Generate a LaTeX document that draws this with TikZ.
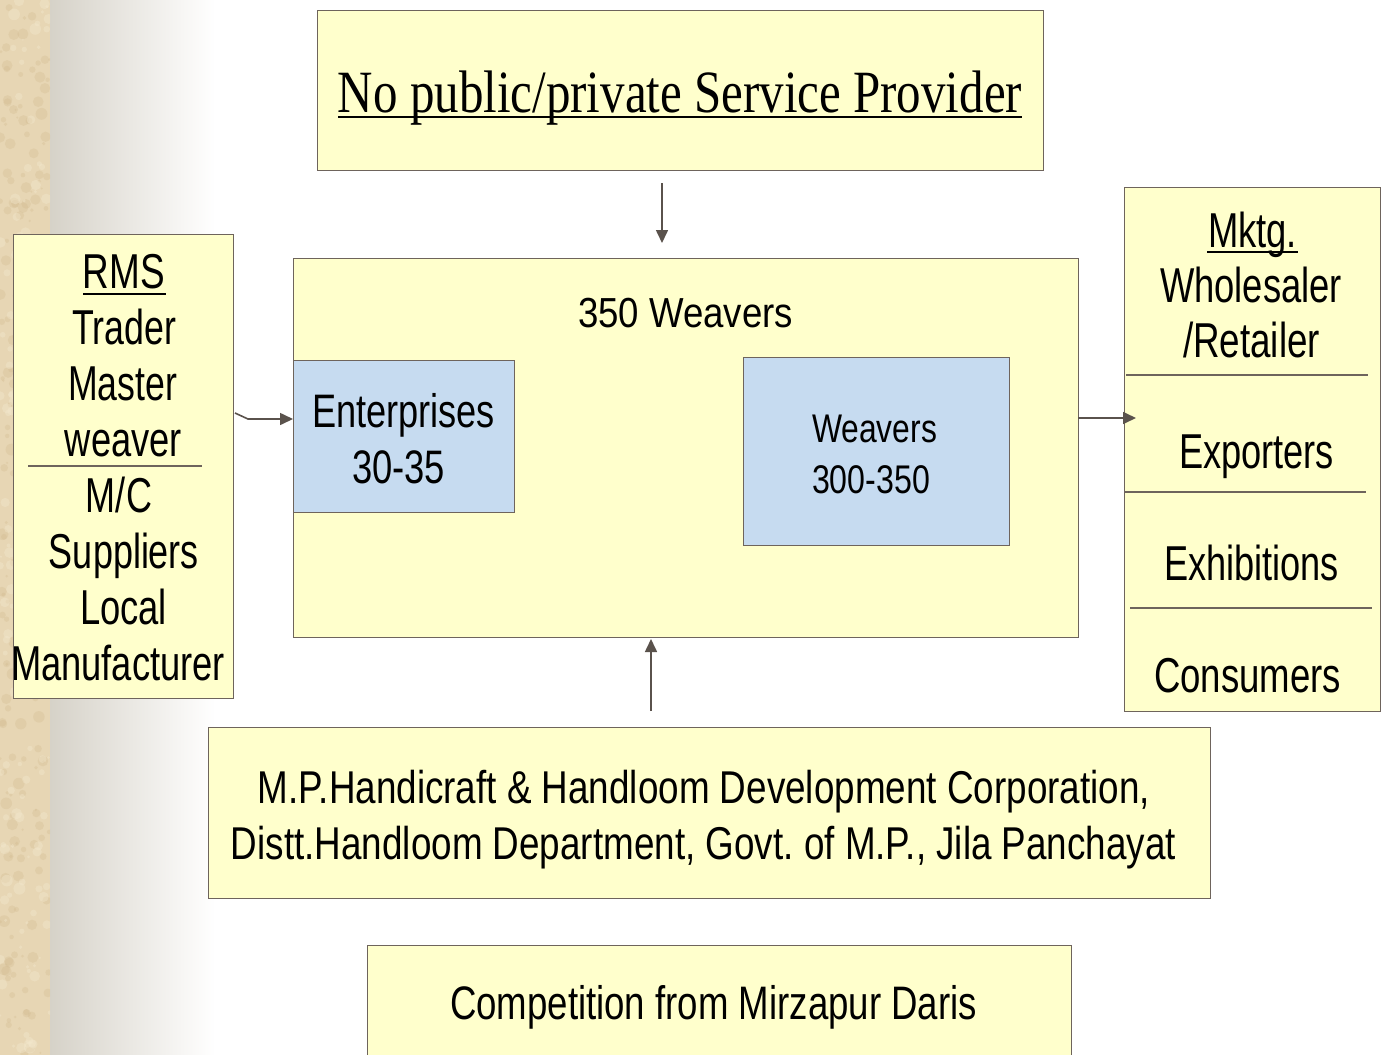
\documentclass[tikz,border=0pt]{standalone}
\usepackage{fontspec}
\usepackage{graphicx}
\setmainfont{Liberation Sans}
\newfontfamily\serifface{Liberation Serif}
\usetikzlibrary{arrows.meta}
\definecolor{boxfill}{RGB}{255,255,204}
\definecolor{boxline}{RGB}{110,100,92}
\definecolor{bluefill}{RGB}{198,219,240}
\definecolor{arrowcol}{RGB}{90,82,76}
\definecolor{parch}{RGB}{231,214,180}
\definecolor{parchdark}{RGB}{205,180,135}
\definecolor{parchlight}{RGB}{243,232,205}
\definecolor{gradleft}{RGB}{214,210,200}
\frenchspacing
\newcommand{\fw}[3]{\resizebox{#1pt}{\height}{\fontsize{#2pt}{#2pt}\selectfont #3}}
\tikzset{
  ybox/.style={draw=boxline, line width=1.3pt, fill=boxfill, anchor=north west, inner sep=0pt},
  bbox/.style={draw=boxline, line width=1.3pt, fill=bluefill, anchor=north west, inner sep=0pt},
  txt/.style={anchor=base, inner sep=0pt, outer sep=0pt},
  divline/.style={draw=boxline, line width=1.3pt},
  conn/.style={draw=arrowcol, line width=1.6pt, -{Triangle[length=13pt,width=12pt]}},
  uline/.style={draw=black, line width=1.2pt}
}
\begin{document}
\begin{tikzpicture}[x=1pt,y=-1pt]
\useasboundingbox (0,0) rectangle (1382,1055);
% background
\fill[white] (0,0) rectangle (1382,1055);
\shade[left color=gradleft, right color=white] (50,0) rectangle (215,1055);
\fill[parch] (0,0) rectangle (50,1055);
\pgfmathsetseed{7}
\begin{scope}
\clip (0,0) rectangle (50,1055);
\foreach \i in {1,...,220} {
  \pgfmathsetmacro{\px}{rnd*50}
  \pgfmathsetmacro{\py}{rnd*1055}
  \pgfmathsetmacro{\pr}{rnd*5+1}
  \fill[parchdark, opacity=0.25] (\px,\py) circle (\pr);
}
\foreach \i in {1,...,160} {
  \pgfmathsetmacro{\px}{rnd*50}
  \pgfmathsetmacro{\py}{rnd*1055}
  \pgfmathsetmacro{\pr}{rnd*5+1}
  \fill[parchlight, opacity=0.4] (\px,\py) circle (\pr);
}
\end{scope}

% top box
\node[ybox, minimum width=726pt, minimum height=160pt] (T) at (317,10) {};
\node[txt] (ttext) at (680,112) {\fw{684}{60}{\serifface No public/private Service Provider}};
\draw[uline] (338,117) -- (1022,117);

% centre box
\node[ybox, minimum width=785pt, minimum height=379pt] (C) at (293,258) {};
\node[txt] (cw) at (685.5,327) {\fw{215}{42}{350 Weavers}};
\node[bbox, minimum width=221pt, minimum height=152pt] (E) at (293,360) {};
\node[txt] (e1) at (403.5,427) {\fw{183}{47}{Enterprises}};
\node[txt] (e2) at (398.5,483) {\fw{93}{47}{30-35}};
\node[bbox, minimum width=266pt, minimum height=188pt] (W) at (743,357) {};
\node[txt] (w1) at (874.5,442) {\fw{125}{40}{Weavers}};
\node[txt] (w2) at (871,493) {\fw{118}{40}{300-350}};

% left box
\node[ybox, minimum width=220pt, minimum height=464pt] (L) at (13,234) {};
\draw[divline] (28,466) -- (202,466);
\node[txt] (l1) at (124,288) {\fw{82}{49}{RMS}};
\draw[uline] (83,294) -- (166,294);
\node[txt] (l2) at (124,344) {\fw{104}{49}{Trader}};
\node[txt] (l3) at (122.5,400) {\fw{109}{49}{Master}};
\node[txt] (l4) at (123.5,456) {\fw{117}{49}{weaver}};
\node[txt] (l5) at (119,512) {\fw{66}{49}{M/C}};
\node[txt] (l6) at (124,568) {\fw{150}{49}{Suppliers}};
\node[txt] (l7) at (123.5,624) {\fw{87}{49}{Local}};
\node[txt] (l8) at (118,680) {\fw{214}{49}{Manufacturer}};

% right box
\node[ybox, minimum width=256pt, minimum height=524pt] (R) at (1124,187) {};
\draw[divline] (1126,375) -- (1368,375);
\draw[divline] (1124,492) -- (1366,492);
\draw[divline] (1130,608) -- (1372,608);
\node[txt] (r1) at (1252.5,247) {\fw{89}{49}{Mktg.}};
\draw[uline] (1207,252) -- (1298,252);
\node[txt] (r2) at (1251,302) {\fw{182}{49}{Wholesaler}};
\node[txt] (r3) at (1251.5,357) {\fw{137}{49}{/Retailer}};
\node[txt] (r4) at (1256.5,468) {\fw{155}{49}{Exporters}};
\node[txt] (r5) at (1251.5,580) {\fw{175}{49}{Exhibitions}};
\node[txt] (r6) at (1247.5,692) {\fw{187}{49}{Consumers}};

% MP box
\node[ybox, minimum width=1002pt, minimum height=171pt] (M) at (208,727) {};
\node[txt] (m1) at (704,803) {\fw{892}{46}{M.P.Handicraft \& Handloom Development Corporation,}};
\node[txt] (m2) at (703.5,859) {\fw{945}{46}{Distt.Handloom Department, Govt. of M.P., Jila Panchayat}};

% competition box
\node[ybox, minimum width=704pt, minimum height=130pt] (K) at (367,945) {};
\node[txt] (k1) at (713.5,1019) {\fw{527}{47}{Competition from Mirzapur Daris}};

% connectors
\coordinate (ta) at (662,183);
\coordinate (tb) at (662,243);
\draw[conn] (ta) -- (tb);
\coordinate (la) at (235,413);
\coordinate (lk) at (248,419);
\coordinate (lb) at (293,419);
\draw[conn] (la) -- (lk) -- (lb);
\coordinate (ra) at (1078,418);
\coordinate (rb) at (1136,418);
\draw[conn] (ra) -- (rb);
\coordinate (ba) at (651,711);
\coordinate (bb) at (651,639);
\draw[conn] (ba) -- (bb);
\end{tikzpicture}
\end{document}
